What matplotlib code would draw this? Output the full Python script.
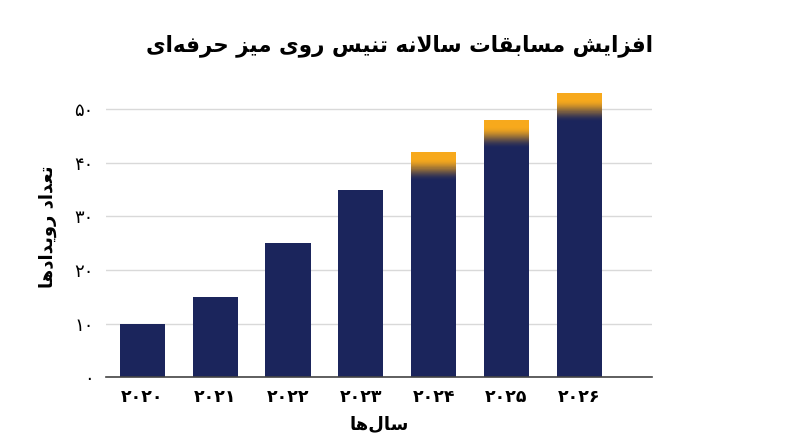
import numpy as np
import matplotlib
matplotlib.use("Agg")
import matplotlib.pyplot as plt
from matplotlib.colors import to_rgb

# ---- data ----
years = ["۲۰۲۰", "۲۰۲۱", "۲۰۲۲", "۲۰۲۳", "۲۰۲۴", "۲۰۲۵", "۲۰۲۶"]
events = [10, 15, 25, 35, 42, 48, 53]
projected = [False, False, False, False, True, True, True]
y_ticks = [0, 10, 20, 30, 40, 50]
y_tick_labels = ["۰", "۱۰", "۲۰", "۳۰", "۴۰", "۵۰"]

title = "افزایش مسابقات سالانه تنیس روی میز حرفه‌ای"
x_title = "سال‌ها"
y_title = "تعداد رویدادها"

NAVY = "#1b255c"
ORANGE = "#f7a91c"

# ---- simple persian shaping (matplotlib has no complex text layout) ----
FORMS = {
    "ا": ("\uFE8D", "\uFE8E", None, None),
    "ب": ("\uFE8F", "\uFE90", "\uFE91", "\uFE92"),
    "ت": ("\uFE95", "\uFE96", "\uFE97", "\uFE98"),
    "ح": ("\uFEA1", "\uFEA2", "\uFEA3", "\uFEA4"),
    "د": ("\uFEA9", "\uFEAA", None, None),
    "ر": ("\uFEAD", "\uFEAE", None, None),
    "ز": ("\uFEAF", "\uFEB0", None, None),
    "س": ("\uFEB1", "\uFEB2", "\uFEB3", "\uFEB4"),
    "ش": ("\uFEB5", "\uFEB6", "\uFEB7", "\uFEB8"),
    "ع": ("\uFEC9", "\uFECA", "\uFECB", "\uFECC"),
    "ف": ("\uFED1", "\uFED2", "\uFED3", "\uFED4"),
    "ق": ("\uFED5", "\uFED6", "\uFED7", "\uFED8"),
    "ل": ("\uFEDD", "\uFEDE", "\uFEDF", "\uFEE0"),
    "م": ("\uFEE1", "\uFEE2", "\uFEE3", "\uFEE4"),
    "ن": ("\uFEE5", "\uFEE6", "\uFEE7", "\uFEE8"),
    "ه": ("\uFEE9", "\uFEEA", "\uFEEB", "\uFEEC"),
    "و": ("\uFEED", "\uFEEE", None, None),
    "ی": ("\uFEEF", "\uFEF0", "\uFEF3", "\uFEF4"),
    "لا": ("\uFEFB", "\uFEFC", None, None),
}


def fa(text):
    tokens = []
    i = 0
    while i < len(text):
        if text[i] == "ل" and i + 1 < len(text) and text[i + 1] == "ا":
            tokens.append("لا")
            i += 2
        else:
            tokens.append(text[i])
            i += 1
    out = []
    for k, t in enumerate(tokens):
        if t not in FORMS:
            out.append("" if t == "\u200c" else t)
            continue
        prev = tokens[k - 1] if k > 0 else None
        nxt = tokens[k + 1] if k + 1 < len(tokens) else None
        iso, fin, ini, med = FORMS[t]
        jp = prev in FORMS and FORMS[prev][2] is not None
        jn = ini is not None and nxt in FORMS
        if jp and jn:
            out.append(med)
        elif jp:
            out.append(fin)
        elif jn:
            out.append(ini)
        else:
            out.append(iso)
    return "".join(reversed(out))


plt.rcParams["font.family"] = ["DejaVu Sans"]

fig = plt.figure(figsize=(8, 4.47), dpi=100)
ax = fig.add_axes([0.1325, 0.156, 0.6825, 0.672])

x = np.arange(len(years))
width = 0.62
bars = ax.bar(x, events, width=width, color=NAVY, zorder=2)

# gradient cap on projected bars, drawn as thin stacked slices
fade = 5.6
n_slices = 60
navy = np.array(to_rgb(NAVY))
orange = np.array(to_rgb(ORANGE))
for b, p in zip(bars, projected):
    if not p:
        continue
    top = b.get_height()
    step = fade / n_slices
    for j in range(n_slices):
        t = (j + 0.5) / n_slices
        s = np.clip((t - 0.05) / 0.72, 0, 1)
        s = s * s * (3 - 2 * s)
        col = navy * (1 - s) + orange * s
        ax.bar(b.get_x() + b.get_width() / 2, step * 1.05,
               bottom=top - fade + j * step, width=width,
               color=col, linewidth=0, zorder=3)

ax.set_xlim(-0.5, 7.0)
ax.set_ylim(0, 56)

ax.set_yticks(y_ticks)
ax.set_yticklabels(y_tick_labels, fontsize=13)
ax.set_xticks(x)
ax.set_xticklabels(years, fontsize=12.5, fontweight="bold")
ax.tick_params(axis="both", length=0)
ax.tick_params(axis="y", pad=9)
ax.tick_params(axis="x", pad=8)

ax.grid(axis="y", color="#d9d9d9", linewidth=1, zorder=0)
ax.set_axisbelow(True)
for side in ["top", "right", "left"]:
    ax.spines[side].set_visible(False)
ax.spines["bottom"].set_color("#444444")
ax.spines["bottom"].set_linewidth(1.2)
ax.spines["bottom"].set_zorder(4)

ax.set_xlabel(fa(x_title), fontsize=13, fontweight="bold", labelpad=6)
ax.set_ylabel(fa(y_title), fontsize=13, fontweight="bold", labelpad=12)

fig.text(0.5, 0.898, fa(title), ha="center", va="center",
         fontsize=15.5, fontweight="bold")

fig.savefig("out.png", dpi=100)
plt.close(fig)
